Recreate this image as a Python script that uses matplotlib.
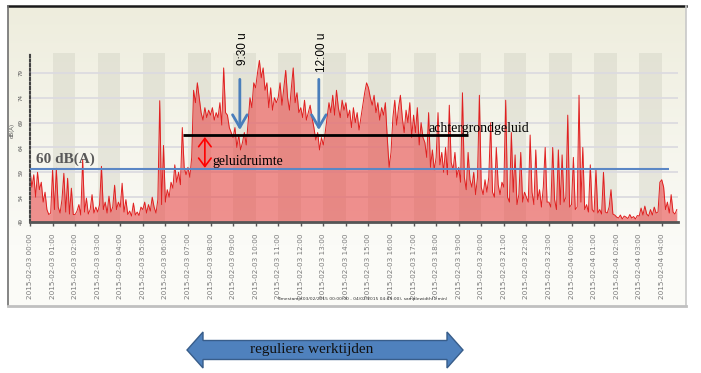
import numpy as np
import matplotlib
matplotlib.use("Agg")
import matplotlib.pyplot as plt
from matplotlib.patches import Polygon

# sound level dB(A), 5 minute samples from 2015-02-03 00:00, one row per hour
db_levels = [
    59.5, 56, 58.5, 54, 59, 55.5, 57, 53, 55, 51.5, 50.5, 50.8,          # 00
    59.5, 51.5, 59.8, 52, 50.8, 53.5, 58.8, 51, 57.8, 50.6, 55.8, 50.5,  # 01
    50.5, 51.2, 52.5, 50.4, 61.6, 51, 53.8, 50.6, 51.5, 54.5, 50.8, 52,  # 02
    51, 52.5, 60.2, 51.5, 53, 50.8, 54.2, 51, 52, 56.4, 51.5, 53,        # 03
    52, 56.8, 51, 53.5, 50.5, 51.2, 50.2, 52.8, 50.4, 51, 50.3, 52,      # 04
    51.5, 53, 50.8, 52.5, 51.2, 54, 52, 50.8, 53.5, 73.4, 52.5, 64.4,    # 05
    53, 55.5, 54, 57, 55.8, 60.5, 57, 59, 56.5, 68, 60, 58.5,            # 06
    60, 58, 62, 75.5, 73, 77, 74, 71, 69.5, 72, 70, 71.5,                # 07
    70.5, 72, 69.5, 71, 70, 73, 68.5, 80, 71, 70.5, 68, 67,              # 08
    66, 68, 64, 66.5, 63.5, 65, 67, 64.5, 69, 74, 72, 77,                # 09
    76, 79, 81.5, 78, 80, 75.5, 77, 72, 76, 71.5, 74, 73,                # 10
    74, 77, 72.5, 76, 79.5, 74, 71.5, 76, 80, 73, 75, 71,                # 11
    72, 70, 73.5, 69.5, 71, 72.5, 70, 68, 65.5, 67, 63.5, 66,            # 12
    64.5, 67, 70, 73, 71, 74.5, 70.5, 75.5, 72, 70, 73.5, 71.5,          # 13
    73, 70, 71.5, 68, 72, 69, 71, 67.5, 70, 72.5, 75, 77,                # 14
    76, 74, 72.5, 74.5, 71, 73, 69.5, 72, 70.5, 73, 66, 60,              # 15
    63, 70, 73.5, 68.5, 72, 74.5, 70, 67, 71.5, 69, 73, 66,              # 16
    70.5, 67, 72, 64.5, 69, 66, 65, 62, 71, 60, 63.5, 59.5,              # 17
    62, 71, 60.5, 63, 59, 64, 58.5, 72.5, 61, 59.5, 63, 58,              # 18
    60, 57, 75, 58, 55.5, 63, 57.5, 56, 59, 54.5, 58, 74.5,              # 19
    56, 54.5, 57.5, 55, 58, 69, 55, 54, 64, 56.5, 54.5, 57,              # 20
    56, 73.5, 54, 53, 67, 55, 62.5, 52.5, 54.5, 63, 53, 55,              # 21
    54, 53, 66.5, 55, 52.5, 63.5, 53.5, 55.5, 52, 56, 64, 53,            # 22
    53, 52, 64, 53.5, 51.5, 63.5, 52.5, 62.5, 53, 54, 70.5, 52,          # 23
    52.5, 62, 51.5, 52, 74.5, 53, 64, 51.5, 52.5, 51, 60.5, 51.5,        # 00
    51, 59.5, 50.8, 51.5, 50.6, 59, 51, 50.8, 52, 55.5, 50.6, 50.4,      # 01
    50, 49.8, 50.4, 49.6, 50.2, 50, 49.7, 50.5, 49.8, 50.1, 49.6, 50.3,  # 02
    50.2, 51.8, 50.4, 52.2, 50.6, 50.2, 51.5, 50.4, 52, 50.8, 51, 57,    # 03
    57.5, 56, 51.5, 53, 50.8, 54.5, 51, 50.6, 51.5,                      # 04
]
sample_hours = np.arange(len(db_levels)) * 5 / 60

tick_labels = [f"2015-02-{3 + h // 24:02d} {h % 24:02d}:00" for h in range(29)]
y_ticks = [49, 54, 59, 64, 69, 74, 79]

limit_db = 59.7
background_db = 66.5
background_span = (6.78, 19.4)
marker_hours = [9.3, 12.8]
marker_labels = ["9:30 u", "12:00 u"]


def main():
    fig = plt.figure(figsize=(7.01, 3.73), dpi=100)
    fig.patch.set_facecolor("white")

    # screenshot background
    bg = fig.add_axes([8 / 701, 1 - 305 / 373, 678 / 701, 299 / 373], zorder=0)
    top = np.array([238, 237, 221]) / 255
    bottom = np.array([251, 251, 247]) / 255
    t = np.clip(np.linspace(0, 1, 299) / 0.8, 0, 1)[:, None]
    grad = top + (bottom - top) * t
    bg.imshow(grad[:, None, :], aspect="auto", extent=[0, 1, 0, 1])
    bg.axis("off")

    ax = fig.add_axes([30 / 701, 1 - 222 / 373, 648 / 701, 169 / 373], zorder=1)
    ax.patch.set_alpha(0)
    ax.set_xlim(0, 28.72)
    ax.set_ylim(49, 83)

    for h in range(1, 28, 2):
        ax.axvspan(h, h + 1, color="#d6d6c8", alpha=0.5, lw=0, zorder=0.5)
    for v in y_ticks:
        ax.axhline(v, color="#dcdbe0", lw=1.3, zorder=0.6)

    ax.fill_between(sample_hours, 49, db_levels, color="#e84a4a", alpha=0.6, lw=0, zorder=2)
    ax.plot(sample_hours, db_levels, color="#e02020", lw=0.7, zorder=2.1)

    ax.hlines(limit_db, 0, 28.3, color="#5b87c5", lw=1.5, zorder=3)
    ax.hlines(background_db, *background_span, color="black", lw=2, zorder=3)

    ax.annotate("", xy=(7.75, 59.9), xytext=(7.75, 66.1),
                arrowprops=dict(arrowstyle="<->,head_length=0.4,head_width=0.3",
                                color="red", lw=1.2, shrinkA=0, shrinkB=0,
                                mutation_scale=15), zorder=4)
    for h, lab in zip(marker_hours, marker_labels):
        ax.annotate("", xy=(h, 67.5), xytext=(h, 77.7),
                    arrowprops=dict(arrowstyle="->,head_length=0.6,head_width=0.35",
                                    color="#4a7ebb", lw=2, shrinkA=0, shrinkB=0,
                                    mutation_scale=15), zorder=4)
        ax.text(h + 0.16, 87.2, lab, rotation=90, va="top", ha="center",
                fontsize=8.5, family="Liberation Sans", clip_on=False)

    ax.text(0.27, 61.6, "60 dB(A)", fontsize=11, fontweight="bold", color="#595959",
            family="Liberation Serif", va="center", zorder=5)
    ax.text(8.1, 61.2, "geluidruimte", fontsize=10, family="Liberation Serif",
            va="center", zorder=5)
    ax.text(17.68, 67.9, "achtergrondgeluid", fontsize=10, family="Liberation Serif",
            va="center", zorder=5)

    ax.set_xticks(range(29))
    ax.set_xticklabels(tick_labels, rotation=90, fontsize=5.2, color="#7a7a7a")
    ax.tick_params(axis="x", length=3, width=1, color="#555555", pad=5)
    ax.set_yticks(y_ticks)
    ax.set_yticklabels([str(v) for v in y_ticks], rotation=90, fontsize=4,
                       color="#555555", va="center")
    ax.tick_params(axis="y", length=0, pad=4.5)
    for s in ["top", "right"]:
        ax.spines[s].set_visible(False)
    ax.spines["left"].set_linestyle((0, (1, 1.2)))
    ax.spines["left"].set_color("#444444")
    ax.spines["left"].set_linewidth(1.5)
    ax.spines["bottom"].set_color("#555555")
    ax.spines["bottom"].set_linewidth(2)

    fig.text(12 / 701, 1 - 130 / 373, "dB(A)", rotation=90, fontsize=4,
             ha="center", va="center", color="#555555")
    fig.text(277 / 701, 1 - 299 / 373,
             "Timestamp(03/02/2015 00:00:00 - 04/02/2015 04:45:00), samplewidth(1 min)",
             fontsize=3.2, ha="left", va="center", color="#333333")

    # frame and bottom arrow in pixel coordinates
    ov = fig.add_axes([0, 0, 1, 1], zorder=3)
    ov.set_xlim(0, 701)
    ov.set_ylim(373, 0)
    ov.axis("off")
    ov.plot([8, 686], [6, 6], color="#1a1a1a", lw=1.8)
    ov.plot([8, 8], [6, 305], color="#707070", lw=1.2)
    ov.plot([686, 686], [6, 305], color="#c8c8c8", lw=1.2)
    ov.plot([8, 686], [305.5, 305.5], color="#c0c0c0", lw=2)

    arrow = Polygon([(187, 350), (203, 332), (203, 340.5), (447, 340.5), (447, 332),
                     (463, 350), (447, 368), (447, 359.5), (203, 359.5), (203, 368)],
                    closed=True, facecolor="#4f81bd", edgecolor="#385d8a", lw=1)
    ov.add_patch(arrow)
    ov.text(312, 350, "reguliere werktijden", ha="center", va="center", fontsize=11,
            family="Liberation Serif", color="#111111")

    fig.savefig("out.png", dpi=100)


if __name__ == "__main__":
    main()
